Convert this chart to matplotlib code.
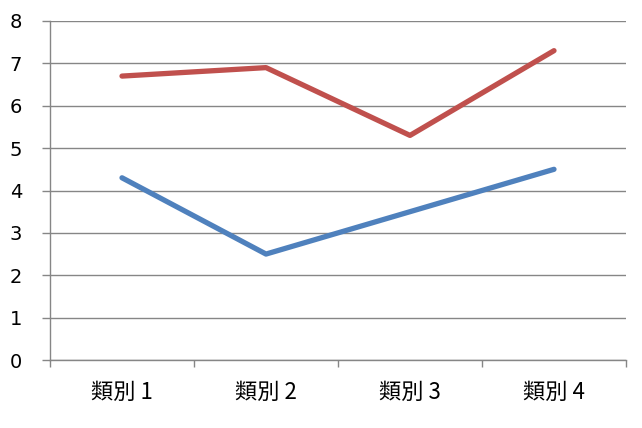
import matplotlib
matplotlib.use("Agg")
import matplotlib.pyplot as plt

plt.rcParams['font.family'] = ['Noto Sans CJK TC', 'DejaVu Sans']

categories = ['類別 1', '類別 2', '類別 3', '類別 4']
series_red = [6.7, 6.9, 5.3, 7.3]
series_blue = [4.3, 2.5, 3.5, 4.5]
yticks = [0, 1, 2, 3, 4, 5, 6, 7, 8]

grid_color = '#868686'

fig = plt.figure(figsize=(6.42, 4.28), dpi=100)
ax = fig.add_axes([50 / 642, 1 - 360 / 428, 576 / 642, 339 / 428])

x = list(range(len(categories)))
ax.plot(x, series_red, color='#C0504D', linewidth=3.8, solid_capstyle='round', zorder=3)
ax.plot(x, series_blue, color='#4F81BD', linewidth=3.8, solid_capstyle='round', zorder=3)

ax.set_xlim(-0.5, len(categories) - 0.5)
ax.set_ylim(0, 8)
ax.set_yticks(yticks)
ax.set_yticklabels([str(v) for v in yticks], fontsize=14, family=['DejaVu Sans'])
ax.yaxis.grid(True, color=grid_color, linewidth=1)
ax.set_axisbelow(True)

ax.set_xticks(x)
ax.set_xticklabels(categories, fontsize=16)
ax.set_xticks([i - 0.5 for i in range(len(categories) + 1)], minor=True)
ax.tick_params(axis='x', which='major', length=0, pad=15)
ax.tick_params(axis='x', which='minor', length=5, color=grid_color, width=1)
ax.tick_params(axis='y', length=6, color=grid_color, width=1, pad=14)

for side in ['top', 'right']:
    ax.spines[side].set_visible(False)
for side in ['left', 'bottom']:
    ax.spines[side].set_color(grid_color)
    ax.spines[side].set_linewidth(1)

fig.savefig('out.png', dpi=100)
